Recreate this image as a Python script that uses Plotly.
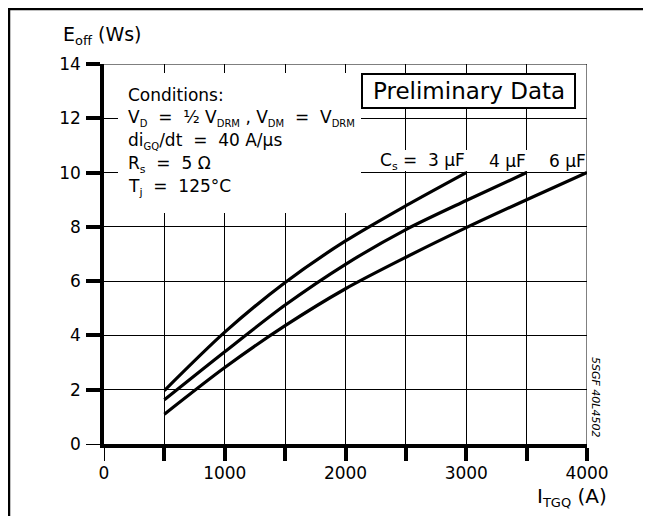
import plotly.graph_objects as go

# ---- data ----
current_3uF = [500, 1000, 1500, 2000, 2500, 3000]
eoff_3uF = [1.97, 4.12, 5.95, 7.48, 8.78, 10.0]

current_4uF = [500, 1000, 1500, 2000, 2500, 3000, 3500]
eoff_4uF = [1.63, 3.40, 5.12, 6.62, 7.90, 8.97, 10.0]

current_6uF = [500, 1000, 1500, 2000, 2500, 3000, 3500, 4000]
eoff_6uF = [1.10, 2.82, 4.36, 5.72, 6.88, 7.97, 9.00, 10.0]

x_ticks = [0, 1000, 2000, 3000, 4000]
x_minor = [500, 1000, 1500, 2000, 2500, 3000, 3500, 4000]
y_ticks = [0, 2, 4, 6, 8, 10, 12, 14]
y_minor = [2, 4, 6, 8, 10, 12, 14]

FONT = "DejaVu Sans"
OFF = 8  # page body margin of the browser
W, H = 651 - OFF, 516 - OFF
# plot area in window pixels, converted to figure pixels
L, R, T, B = 104 - OFF, 587 - OFF, 64 - OFF, 444 - OFF
XMAX, YMAX = 4000, 14


def xd(px):
    return (px - OFF - L) / (R - L) * XMAX


def yd(py):
    return (B - (py - OFF)) / (B - T) * YMAX


def xp(px):
    return (px - OFF - L) / (R - L)


def yp(py):
    return (B - (py - OFF)) / (B - T)


fig = go.Figure()
for xs, ys in [(current_3uF, eoff_3uF), (current_4uF, eoff_4uF), (current_6uF, eoff_6uF)]:
    fig.add_trace(go.Scatter(x=xs, y=ys, mode="lines",
                             line=dict(color="black", width=3.2, shape="spline", smoothing=0.8),
                             showlegend=False, hoverinfo="skip"))

shapes = []
# white masks (hide grid behind text)
for x0, x1, y0, y1 in [(118, 361, 73, 213), (361, 587, 150, 171)]:
    shapes.append(dict(type="rect", xref="x", yref="y", x0=xd(x0), x1=xd(x1), y0=yd(y1), y1=yd(y0),
                       fillcolor="white", line=dict(width=0), layer="between"))
# Preliminary data box
shapes.append(dict(type="rect", xref="x", yref="y", x0=xd(362), x1=xd(575), y0=yd(108), y1=yd(74),
                   fillcolor="white", line=dict(color="black", width=2), layer="between"))
# plot frame top/right thin
shapes.append(dict(type="line", xref="x", yref="y", x0=0, x1=XMAX, y0=YMAX, y1=YMAX,
                   line=dict(color="black", width=1)))
shapes.append(dict(type="line", xref="x", yref="y", x0=XMAX, x1=XMAX, y0=0, y1=YMAX,
                   line=dict(color="black", width=1)))
# outer page frame (top and left)
shapes.append(dict(type="line", xref="paper", yref="paper", x0=xp(8), x1=xp(651), y0=yp(9), y1=yp(9),
                   line=dict(color="black", width=2.5)))
shapes.append(dict(type="line", xref="paper", yref="paper", x0=xp(9), x1=xp(9), y0=yp(8), y1=yp(516),
                   line=dict(color="black", width=2.5)))

nb = "\u00a0"
ann = []


def sub(s, size=10):
    return f'<sub><span style="font-size:{size}px">{s}</span></sub>'


def txt(text, px, py, size=17, xanchor="left", yanchor="middle", angle=0):
    ann.append(dict(text=text, xref="paper", yref="paper", x=xp(px), y=yp(py),
                    xanchor=xanchor, yanchor=yanchor, showarrow=False, textangle=angle,
                    font=dict(family=FONT, size=size, color="black")))


cond_lines = [
    "Conditions:",
    f"V{sub('D')}{nb}{nb}={nb}{nb}½{nb}V{sub('DRM')}{nb},{nb}V{sub('DM')}{nb}{nb}={nb}{nb}V{sub('DRM')}",
    f"di{sub('GQ')}/dt{nb}{nb}={nb}{nb}40{nb}A/µs",
    f"R{sub('s', 11)}{nb}{nb}={nb}{nb}5{nb}Ω",
    f"T{sub('j', 11)}{nb}{nb}={nb}{nb}125°C",
]
cond_y = [95, 118, 141, 164, 187]
for t, y in zip(cond_lines, cond_y):
    txt(t, 126, y, size=17)

txt("Preliminary Data", 468.5, 91, size=23, xanchor="center")

cs_labels = [f"C{sub('s', 11)}{nb}={nb}{nb}3{nb}µF", f"4{nb}µF", f"6{nb}µF"]
cs_ends = [current_3uF[-1], current_4uF[-1], current_6uF[-1]]
for t, xe in zip(cs_labels, cs_ends):
    ann.append(dict(text=t, xref="x", yref="y", x=xe, y=yd(161), xanchor="right", yanchor="middle",
                    showarrow=False, borderpad=0, font=dict(family=FONT, size=17, color="black")))

txt(f"E{sub('off', 13)} (Ws)", 61, 36, size=19)
txt(f"I{sub('TGQ', 13)} (A)", 535, 497, size=20)
txt("<i>5SGF 40L4502</i>", 596, 397, size=11, xanchor="center", angle=90)

fig.update_layout(
    width=W, height=H,
    margin=dict(l=L, r=W - R, t=T, b=H - B, pad=0),
    paper_bgcolor="white", plot_bgcolor="white",
    shapes=shapes, annotations=ann,
    font=dict(family=FONT, size=17, color="black"),
    xaxis=dict(range=[0, XMAX], tickmode="array", tickvals=x_ticks,
               ticktext=[str(v) for v in x_ticks], ticks="outside", ticklen=13, tickwidth=1,
               tickcolor="black", showgrid=True, gridcolor="black", gridwidth=1,
               showline=True, linecolor="black", linewidth=3.5, zeroline=False,
               tickfont=dict(family=FONT, size=17, color="black"), ticklabelstandoff=-2,
               minor=dict(tickmode="array", tickvals=x_minor, ticks="outside", ticklen=13,
                          tickwidth=3.5, tickcolor="black", showgrid=True,
                          gridcolor="black", gridwidth=1),
               fixedrange=True),
    yaxis=dict(range=[0, YMAX], tickmode="array", tickvals=y_ticks,
               ticktext=[str(v) for v in y_ticks], ticks="outside", ticklen=14, tickwidth=1,
               tickcolor="black", showgrid=True, gridcolor="black", gridwidth=1,
               showline=True, linecolor="black", linewidth=3.5, zeroline=False,
               tickfont=dict(family=FONT, size=17, color="black"), ticklabelstandoff=2,
               minor=dict(tickmode="array", tickvals=y_minor, ticks="outside", ticklen=14,
                          tickwidth=3.5, tickcolor="black", showgrid=True,
                          gridcolor="black", gridwidth=1),
               fixedrange=True),
)

fig.write_html("out.html")
